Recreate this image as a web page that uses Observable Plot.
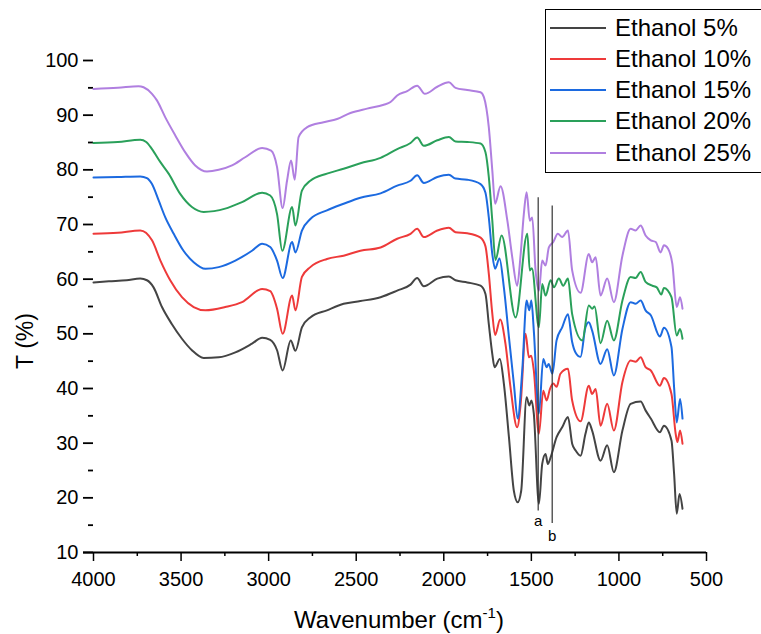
<!DOCTYPE html>
<html>
<head>
<meta charset="utf-8">
<script src="https://cdn.jsdelivr.net/npm/d3@7"></script>
<script src="https://cdn.jsdelivr.net/npm/@observablehq/plot@0.6"></script>
<style>
  body { margin: 0; background: #fff; }
  #wrap { position: relative; width: 761px; height: 634px; overflow: hidden; font-family: "Liberation Sans", Arial, sans-serif; }
  #legend { position: absolute; left: 545px; top: 9px; width: 240px; height: 162px; border: 1px solid #000; background: #fff; }
  .item { position: absolute; left: 4px; height: 30px; display: flex; align-items: center; }
  .swatch { width: 56px; height: 2px; margin-right: 9px; }
  .label { font-size: 24px; color: #000; white-space: nowrap; }
</style>
</head>
<body>
<div id="wrap"><div id="chart"></div><div id="legend"></div></div>
<script>
const seriesNames = ["Ethanol 5%", "Ethanol 10%", "Ethanol 15%", "Ethanol 20%", "Ethanol 25%"];
const seriesColors = ["#444444", "#ee3a3a", "#1c6ae0", "#2aa05a", "#b07fe0"];

const ethanol5 = [[4000,59.4],[3912,59.6],[3811,59.8],[3733,60.1],[3695,59.8],[3657,58.5],[3609,54.9],[3553,51.8],[3495,49.1],[3438,47.0],[3371,45.6],[3285,45.7],[3190,46.6],[3095,48.2],[3037,49.3],[2991,48.9],[2952,47.0],[2920,43.3],[2874,48.8],[2847,46.9],[2810,51.2],[2762,53.0],[2667,54.3],[2572,55.5],[2476,56.0],[2361,56.7],[2266,57.9],[2190,59.0],[2152,60.2],[2114,58.7],[2037,60.1],[1971,60.5],[1933,59.8],[1866,59.4],[1790,58.8],[1762,57.3],[1743,51.8],[1723,46.3],[1710,43.9],[1680,45.4],[1657,40.9],[1628,31.1],[1600,21.3],[1578,19.2],[1558,21.3],[1527,38.4],[1512,36.9],[1499,37.8],[1486,35.4],[1457,18.9],[1438,26.2],[1419,28.0],[1406,26.2],[1390,27.4],[1356,31.1],[1324,32.9],[1291,34.8],[1267,29.9],[1248,28.7],[1219,27.7],[1191,31.7],[1172,33.8],[1153,32.3],[1105,26.8],[1067,29.6],[1029,24.7],[980,32.3],[933,37.2],[876,37.6],[848,36.0],[818,34.5],[766,32.0],[743,33.2],[700,30.5],[685,24.4],[670,17.1],[654,20.7],[637,18.0]];

const ethanol10 = [[4000,68.3],[3861,68.5],[3733,68.9],[3666,67.1],[3618,63.4],[3562,59.8],[3495,56.7],[3428,54.9],[3361,54.3],[3248,54.9],[3152,55.8],[3037,58.2],[2991,57.8],[2952,54.6],[2920,50.0],[2866,57.0],[2847,54.3],[2810,60.4],[2762,62.2],[2667,63.7],[2572,64.3],[2476,65.2],[2361,65.8],[2266,67.4],[2190,68.3],[2152,69.2],[2114,67.7],[2037,68.9],[1971,69.4],[1933,68.6],[1866,68.4],[1790,67.6],[1762,66.0],[1743,61.0],[1723,53.7],[1707,49.8],[1678,52.6],[1648,48.2],[1619,40.2],[1581,32.9],[1561,37.2],[1533,50.0],[1514,45.7],[1501,46.0],[1486,43.3],[1457,31.7],[1432,39.6],[1413,37.8],[1394,39.9],[1375,40.9],[1356,40.3],[1334,42.7],[1291,43.6],[1267,37.8],[1219,34.0],[1172,40.5],[1153,39.0],[1133,39.9],[1105,33.2],[1067,37.2],[1029,32.3],[980,41.2],[933,45.1],[905,44.9],[876,45.7],[848,43.9],[818,43.3],[766,40.5],[743,41.9],[700,39.0],[676,31.7],[666,30.2],[651,32.3],[637,29.9]];

const ethanol15 = [[4000,78.6],[3861,78.7],[3733,78.8],[3695,78.5],[3666,77.4],[3628,74.4],[3590,71.3],[3542,68.3],[3486,65.2],[3428,63.1],[3361,61.9],[3285,62.2],[3190,63.4],[3095,65.2],[3037,66.5],[2991,65.9],[2952,63.4],[2920,60.2],[2866,66.8],[2847,64.9],[2810,68.9],[2762,71.0],[2667,72.6],[2572,73.8],[2476,74.9],[2361,75.7],[2266,77.1],[2190,78.0],[2152,79.0],[2114,77.6],[2037,78.7],[1971,79.1],[1933,78.4],[1866,78.2],[1790,77.4],[1762,75.8],[1743,71.3],[1723,64.6],[1707,61.9],[1682,63.8],[1657,58.5],[1628,49.4],[1600,40.9],[1578,34.5],[1552,43.3],[1527,56.1],[1512,54.3],[1500,56.1],[1486,50.6],[1457,35.4],[1432,45.4],[1413,43.9],[1401,44.5],[1380,42.7],[1356,48.8],[1324,51.2],[1291,53.6],[1267,48.5],[1248,46.6],[1219,45.8],[1191,51.2],[1172,52.1],[1153,50.6],[1105,44.5],[1067,47.2],[1029,42.4],[980,50.9],[933,55.8],[905,55.5],[876,56.1],[848,54.3],[818,53.4],[766,49.5],[743,51.1],[700,47.6],[685,40.2],[670,33.8],[651,38.1],[637,34.5]];

const ethanol20 = [[4000,84.9],[3861,85.1],[3733,85.5],[3699,85.1],[3666,83.8],[3618,81.4],[3571,79.3],[3505,75.6],[3438,73.2],[3371,72.3],[3248,72.9],[3152,74.1],[3037,75.8],[2991,75.3],[2952,71.9],[2922,65.2],[2866,73.2],[2847,69.8],[2810,76.2],[2762,78.0],[2667,79.3],[2572,80.2],[2476,81.2],[2361,82.2],[2266,83.8],[2190,84.9],[2152,85.9],[2114,84.4],[2037,85.4],[1971,86.0],[1933,85.2],[1866,85.1],[1790,84.8],[1762,83.2],[1743,78.7],[1723,70.7],[1705,63.5],[1670,68.0],[1590,53.0],[1523,68.3],[1509,61.6],[1497,62.0],[1457,51.2],[1438,59.1],[1419,57.0],[1390,59.8],[1371,58.5],[1343,60.1],[1318,58.8],[1291,60.1],[1267,53.6],[1209,48.8],[1172,55.2],[1153,54.6],[1139,55.0],[1105,48.3],[1067,52.4],[1029,48.8],[980,56.1],[933,60.4],[905,60.2],[876,61.3],[848,59.5],[809,58.8],[784,58.5],[758,57.2],[743,58.4],[700,56.7],[670,49.7],[651,50.9],[637,49.1]];

const ethanol25 = [[4000,94.8],[3861,95.0],[3743,95.3],[3714,95.1],[3666,93.9],[3638,92.7],[3590,89.6],[3533,86.3],[3476,83.2],[3419,80.8],[3352,79.7],[3285,80.0],[3209,80.8],[3134,82.3],[3037,84.0],[2986,83.5],[2952,80.5],[2920,73.0],[2895,78.0],[2872,81.7],[2851,78.2],[2829,86.0],[2780,87.8],[2686,88.7],[2609,89.3],[2533,90.4],[2438,91.2],[2343,91.9],[2304,92.4],[2266,93.6],[2209,94.4],[2152,95.4],[2108,93.9],[2037,95.2],[1971,96.0],[1933,95.0],[1866,94.6],[1790,94.2],[1771,93.3],[1743,87.8],[1723,79.9],[1707,73.8],[1676,77.0],[1637,70.7],[1609,64.0],[1581,58.8],[1561,64.6],[1543,71.9],[1527,75.9],[1509,70.7],[1495,71.3],[1476,61.6],[1457,57.9],[1438,63.4],[1419,62.5],[1400,65.8],[1375,66.8],[1349,68.3],[1324,67.7],[1291,68.9],[1267,61.6],[1219,57.5],[1172,64.6],[1153,63.1],[1133,64.0],[1105,57.0],[1067,60.1],[1029,55.8],[980,64.3],[933,69.2],[905,68.9],[876,69.8],[848,68.0],[818,67.1],[790,66.8],[762,64.9],[743,66.2],[720,65.6],[695,62.8],[670,54.9],[651,56.7],[637,54.6]];

const xTicks = [4000, 3500, 3000, 2500, 2000, 1500, 1000, 500];
const xMinorTicks = [3750, 3250, 2750, 2250, 1750, 1250, 750];
const yTicks = [10, 20, 30, 40, 50, 60, 70, 80, 90, 100];
const yMinorTicks = [15, 25, 35, 45, 55, 65, 75, 85, 95];

const markerLabels = ["a", "b"];
const markerWavenumbers = [1461, 1381];
const markerTops = [74.9, 73.4];
const markerBottoms = [17.6, 15.3];
const markerTextY = [15.7, 13.0];

const allSeries = [ethanol5, ethanol10, ethanol15, ethanol20, ethanol25];
const rows = allSeries.flatMap((s, i) => s.map(([w, t]) => ({w, t, name: seriesNames[i]})));
const markers = markerLabels.map((label, i) => ({label, w: markerWavenumbers[i], top: markerTops[i], bottom: markerBottoms[i], ty: markerTextY[i]}));

const svg = Plot.plot({
  width: 761,
  height: 634,
  marginLeft: 93,
  marginRight: 55,
  marginTop: 60,
  marginBottom: 82,
  style: {fontFamily: "'Liberation Sans', Arial, sans-serif", fontSize: "20px", color: "#000", background: "transparent"},
  x: {domain: [4000, 500]},
  y: {domain: [10, 100]},
  color: {domain: seriesNames, range: seriesColors},
  marks: [
    Plot.axisX({ticks: xTicks, tickSize: 9, tickPadding: 10, tickFormat: d => String(d), label: null, strokeWidth: 1.5}),
    Plot.axisX({ticks: xMinorTicks, tickSize: 4, tickFormat: () => "", label: null, strokeWidth: 1.5}),
    Plot.axisY({ticks: yTicks, tickSize: 10, tickPadding: 5, tickFormat: d => String(d), label: null, strokeWidth: 1.8}),
    Plot.axisY({ticks: yMinorTicks, tickSize: 5, tickFormat: () => "", label: null, strokeWidth: 1.8}),
    Plot.ruleY([10], {x1: 4057, x2: 500, stroke: "#000", strokeWidth: 2}),
    Plot.line(rows, {x: "w", y: "t", z: "name", stroke: "name", strokeWidth: 2, curve: "monotone-x"}),
    Plot.ruleX(markers, {x: "w", y1: "bottom", y2: "top", stroke: "#333", strokeWidth: 1.2}),
    Plot.text(markers, {x: "w", y: "ty", text: "label", fontSize: 15, fill: "#000"})
  ]
});

const s = d3.select(svg);
const xt = s.append("text").attr("x", 399).attr("y", 628).attr("text-anchor", "middle")
  .style("font-size", "24px").attr("fill", "#000");
xt.append("tspan").text("Wavenumber (cm");
xt.append("tspan").attr("dy", -10).style("font-size", "15px").text("-1");
xt.append("tspan").attr("dy", 10).text(")");
s.append("text").attr("transform", "translate(33,341) rotate(-90)").attr("text-anchor", "middle")
  .style("font-size", "23px").attr("fill", "#000").text("T (%)");

document.getElementById("chart").appendChild(svg);

const legend = document.getElementById("legend");
const centers = [18, 49, 80, 111, 143];
seriesNames.forEach((name, i) => {
  const item = document.createElement("div");
  item.className = "item";
  item.style.top = (centers[i] - 15) + "px";
  const sw = document.createElement("div");
  sw.className = "swatch";
  sw.style.background = seriesColors[i];
  const lb = document.createElement("span");
  lb.className = "label";
  lb.textContent = name;
  item.appendChild(sw);
  item.appendChild(lb);
  legend.appendChild(item);
});
</script>
</body>
</html>
